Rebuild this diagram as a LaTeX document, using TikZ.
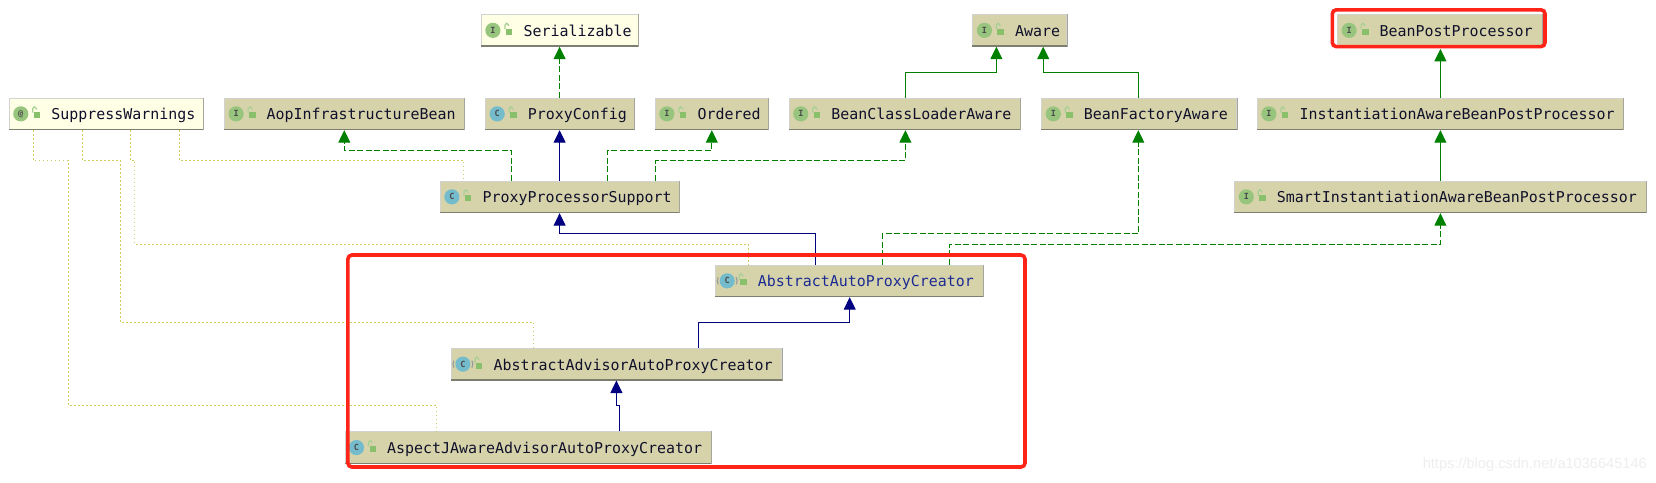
\documentclass[tikz,border=0pt]{standalone}
\usepackage{fontspec}
\setmainfont{Liberation Sans}
\setmonofont{DejaVu Sans Mono}
\usetikzlibrary{arrows.meta}
\definecolor{beige}{HTML}{D6D3AB}
\definecolor{ivory}{HTML}{FFFFE6}
\definecolor{edgeg}{HTML}{D2D2D2}
\definecolor{boxshade}{HTML}{7E7E70}
\definecolor{igreen}{HTML}{98C57E}
\definecolor{cblue}{HTML}{74BCCC}
\definecolor{lockg}{HTML}{88C06C}
\definecolor{inkc}{HTML}{10102A}
\definecolor{absc}{HTML}{1B2B92}
\definecolor{relg}{HTML}{008000}
\definecolor{reln}{HTML}{000080}
\definecolor{olive}{HTML}{CFCB5C}
\definecolor{redmark}{HTML}{FF2418}
\definecolor{wm}{HTML}{EEEEEE}
\tikzset{
  umlbox/.style={rectangle,draw=edgeg,line width=1pt,inner sep=0pt,minimum height=31.7pt},
  lbl/.style={inner sep=0pt,anchor=base west,font=\ttfamily\fontsize{14.95}{16}\selectfont},
  glyph/.style={inner sep=0pt,font=\ttfamily\bfseries\fontsize{8.5}{9}\selectfont,text=black!70},
  rel/.style={line width=1pt,-{Triangle[width=12pt,length=12.5pt]}},
  ext/.style={rel,color=reln},
  subi/.style={rel,color=relg},
  impl/.style={rel,color=relg,dash pattern=on 6pt off 2.5pt},
  note/.style={line width=1pt,color=olive,dash pattern=on 1.3pt off 2.7pt},
  hilite/.style={draw=redmark,line width=3.6pt,rounded corners=4pt}
}
% name, left, right, top, fill, icon colour, icon letter, text colour, text
\newcommand{\umlnode}[9]{%
  \node[umlbox,fill=#5,minimum width=#3pt-#2pt] (#1) at ({(#2+#3)/2},{#4+15.85}) {};
  \draw[boxshade,line width=1.3pt] ([yshift=.6pt]#1.south west) -- ([yshift=.6pt]#1.south east);
  \draw[boxshade!70,line width=.7pt] ([xshift=-.4pt]#1.south east) -- ([xshift=-.4pt]#1.north east);
  \fill[#6] ([xshift=12pt]#1.west) circle (7.6pt);
  \node[glyph] (#1g) at ([xshift=12pt]#1.west) {#7};
  \fill[lockg] ([xshift=25pt,yshift=-14.8pt]#1.north west) rectangle ([xshift=31.5pt,yshift=-20.8pt]#1.north west);
  \draw[lockg!75,line width=1.2pt] ([xshift=24pt,yshift=-15pt]#1.north west) -- ++(0,-4) arc[start angle=180,end angle=0,radius=1.8pt] -- ++(0,1);
  \node[lbl,text=#8] (#1t) at ([xshift=42.4pt,yshift=10.4pt]#1.south west) {#9};
}
\newcommand{\hatch}[1]{%
  \draw[black!40,line width=1.1pt] ([xshift=3pt,yshift=3.5pt]#1.west) arc[start angle=150,end angle=210,radius=7pt];
  \draw[black!40,line width=1.1pt] ([xshift=21pt,yshift=-3.5pt]#1.west) arc[start angle=-30,end angle=30,radius=7pt];
}
\begin{document}
\begin{tikzpicture}[x=1pt,y=-1pt]
\useasboundingbox (0,0) rectangle (1656,482);
\fill[white] (0,0) rectangle (1656,482);

\umlnode{ser}{481.4}{638.6}{14.5}{ivory}{igreen}{I}{inkc}{Serializable}
\umlnode{aware}{972.9}{1066.8}{14.5}{beige}{igreen}{I}{inkc}{Aware}
\umlnode{bpp}{1337.6}{1542.6}{14.5}{beige}{igreen}{I}{inkc}{BeanPostProcessor}
\umlnode{sw}{9.3}{203.6}{98}{ivory}{igreen}{@}{inkc}{SuppressWarnings}
\umlnode{aop}{224.6}{464.6}{98}{beige}{igreen}{I}{inkc}{AopInfrastructureBean}
\umlnode{pc}{485.7}{634.3}{98}{beige}{cblue}{C}{inkc}{ProxyConfig}
\umlnode{ord}{655.4}{768.2}{98}{beige}{igreen}{I}{inkc}{Ordered}
\umlnode{bcl}{789.3}{1020.7}{98}{beige}{igreen}{I}{inkc}{BeanClassLoaderAware}
\umlnode{bfa}{1041.8}{1236.8}{98}{beige}{igreen}{I}{inkc}{BeanFactoryAware}
\umlnode{iab}{1257.4}{1623.4}{98}{beige}{igreen}{I}{inkc}{InstantiationAwareBeanPostProcessor}
\umlnode{pps}{440.4}{679.6}{181}{beige}{cblue}{C}{inkc}{ProxyProcessorSupport}
\umlnode{sia}{1234.8}{1646}{181}{beige}{igreen}{I}{inkc}{SmartInstantiationAwareBeanPostProcessor}
\umlnode{aap}{715.7}{983.3}{265}{beige}{cblue}{C}{absc}{AbstractAutoProxyCreator}
\umlnode{aad}{451.4}{781.8}{348.3}{beige}{cblue}{C}{inkc}{AbstractAdvisorAutoProxyCreator}
\umlnode{asp}{345}{711.4}{431.7}{beige}{cblue}{C}{inkc}{AspectJAwareAdvisorAutoProxyCreator}
\hatch{aap}
\hatch{aad}

% dotted annotation links
\draw[note] (33.2,0 |- sw.south) -- (33.2,160.3) -- (68.2,160.3) -- (68.2,405) -- (436.4,405) -- (436.4,0 |- asp.north);
\draw[note] (82.5,0 |- sw.south) -- (82.5,160.3) -- (120.4,160.3) -- (120.4,322.3) -- (533.6,322.3) -- (533.6,0 |- aad.north);
\draw[note] (130.4,0 |- sw.south) -- (130.4,160.3) -- (134.6,160.3) -- (134.6,244.3) -- (748.3,244.3) -- (748.3,0 |- aap.north);
\draw[note] (179.3,0 |- sw.south) -- (179.3,160.3) -- (463.6,160.3) -- (463.6,0 |- pps.north);

% interface / class links
\draw[impl] (559.6,0 |- pc.north) -- (559.6,0 |- ser.south);
\draw[ext] (559.6,0 |- pps.north) -- (559.6,0 |- pc.south);
\draw[impl] (511.4,0 |- pps.north) -- (511.4,150.3) -- (344.3,150.3) -- (344.3,0 |- aop.south);
\draw[impl] (607.5,0 |- pps.north) -- (607.5,150.3) -- (711.8,150.3) -- (711.8,0 |- ord.south);
\draw[impl] (655.7,0 |- pps.north) -- (655.7,160.3) -- (905.4,160.3) -- (905.4,0 |- bcl.south);
\draw[subi] (905.4,0 |- bcl.north) -- (905.4,72.3) -- (996.4,72.3) -- (996.4,0 |- aware.south);
\draw[subi] (1138.3,0 |- bfa.north) -- (1138.3,72.3) -- (1043.2,72.3) -- (1043.2,0 |- aware.south);
\draw[subi] (1440.4,0 |- sia.north) -- (1440.4,0 |- iab.south);
\draw[ext] (815.7,0 |- aap.north) -- (815.7,233.7) -- (559.6,233.7) -- (559.6,0 |- pps.south);
\draw[impl] (882.3,0 |- aap.north) -- (882.3,233.7) -- (1138.3,233.7) -- (1138.3,0 |- bfa.south);
\draw[impl] (949.3,0 |- aap.north) -- (949.3,244.3) -- (1440.4,244.3) -- (1440.4,0 |- sia.south);
\draw[ext] (698.2,0 |- aad.north) -- (698.2,322.3) -- (849.7,322.3) -- (849.7,0 |- aap.south);
\draw[ext] (619.3,0 |- asp.north) -- (619.3,405) -- (616.4,405) -- (616.4,0 |- aad.south);

% red highlights
\draw[hilite] (1332.3,9.8) rectangle (1545,46.6);
\draw[hilite] (347.9,255) rectangle (1025,467);
\draw[subi,shorten >=2.2pt] (1440.4,0 |- iab.north) -- (1440.4,0 |- bpp.south);

\node[inner sep=0pt,anchor=base east,text=wm,font=\fontsize{14.6}{16}\selectfont] (wmk) at (1647,468) {https://blog.csdn.net/a1036645146};
\end{tikzpicture}
\end{document}
